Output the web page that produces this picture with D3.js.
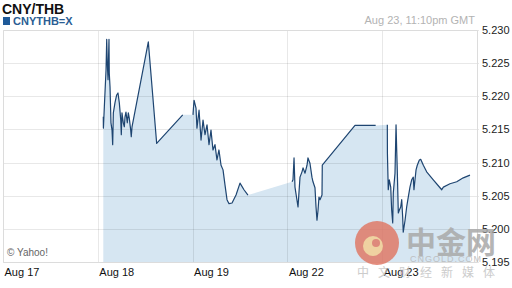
<!DOCTYPE html>
<html>
<head>
<meta charset="utf-8">
<script src="https://cdn.jsdelivr.net/npm/d3@7"></script>
<style>
  body { margin: 0; background: #fff; }
  svg { display: block; font-family: Arial, "Liberation Sans", sans-serif; }
</style>
</head>
<body>
<svg id="chart" width="512" height="288"></svg>
<script>
// trading-day index (0 = Aug 17) + fraction of the day, rate
const dayLabels = ['Aug 17', 'Aug 18', 'Aug 19', 'Aug 22', 'Aug 23'];
const yTicks = [5.195, 5.200, 5.205, 5.210, 5.215, 5.220, 5.225, 5.230];

const aug18 = [
  [1.058, 5.2169], [1.059, 5.2152], [1.069, 5.2184], [1.087, 5.2240], [1.094, 5.2286],
  [1.100, 5.2250], [1.108, 5.2225], [1.118, 5.2286], [1.121, 5.2235], [1.129, 5.2214],
  [1.139, 5.2160], [1.150, 5.2149], [1.157, 5.2127], [1.164, 5.2175], [1.181, 5.2190],
  [1.199, 5.2202], [1.213, 5.2205], [1.227, 5.2190], [1.242, 5.2164], [1.248, 5.2142],
  [1.255, 5.2175], [1.269, 5.2160], [1.280, 5.2154], [1.287, 5.2169], [1.297, 5.2176],
  [1.311, 5.2160], [1.322, 5.2175], [1.332, 5.2167], [1.347, 5.2149], [1.353, 5.2139],
  [1.361, 5.2154], [1.533, 5.2282], [1.621, 5.2129], [1.896, 5.2172]
];
const aug19 = [
  [2.004, 5.2172], [2.015, 5.2194], [2.036, 5.2182], [2.046, 5.2152], [2.068, 5.2179],
  [2.089, 5.2134], [2.110, 5.2164], [2.131, 5.2142], [2.152, 5.2157], [2.173, 5.2127],
  [2.194, 5.2149], [2.215, 5.2119], [2.236, 5.2127], [2.257, 5.2104], [2.278, 5.2119],
  [2.300, 5.2096], [2.321, 5.2089], [2.342, 5.2066], [2.363, 5.2044], [2.384, 5.2038],
  [2.416, 5.2039], [2.458, 5.2051], [2.500, 5.2069], [2.542, 5.2059], [2.584, 5.2051]
];
const aug22 = [
  [3.049, 5.2071], [3.059, 5.2074], [3.070, 5.2107], [3.080, 5.2063], [3.112, 5.2033],
  [3.133, 5.2078], [3.154, 5.2086], [3.165, 5.2092], [3.186, 5.2084], [3.207, 5.2096],
  [3.217, 5.2107], [3.238, 5.2099], [3.259, 5.2078], [3.270, 5.2071], [3.291, 5.2062],
  [3.302, 5.2033], [3.312, 5.2013], [3.323, 5.2028], [3.333, 5.2048], [3.344, 5.2044],
  [3.365, 5.2051], [3.368, 5.2096], [3.713, 5.2156], [3.931, 5.2156]
];
const aug23 = [
  [4.054, 5.2157], [4.055, 5.2114], [4.064, 5.2059], [4.075, 5.2074], [4.090, 5.2063],
  [4.100, 5.2028], [4.111, 5.2009], [4.117, 5.2054], [4.135, 5.2084], [4.146, 5.2157],
  [4.153, 5.2119], [4.159, 5.2089], [4.170, 5.2024], [4.180, 5.2028], [4.195, 5.2033],
  [4.206, 5.2044], [4.216, 5.2018], [4.222, 5.1995], [4.241, 5.2013], [4.258, 5.2033],
  [4.275, 5.2048], [4.293, 5.2063], [4.311, 5.2074], [4.328, 5.2078], [4.335, 5.2059],
  [4.346, 5.2074], [4.357, 5.2089], [4.370, 5.2096], [4.392, 5.2104], [4.406, 5.2105],
  [4.434, 5.2096], [4.469, 5.2086], [4.539, 5.2074], [4.610, 5.2062], [4.628, 5.2059],
  [4.645, 5.2063], [4.715, 5.2068], [4.786, 5.2071], [4.855, 5.2077], [4.926, 5.2081]
];
const segments = [aug18, aug19, aug22, aug23];

const svg = d3.select('#chart');
const plotLeft = 3, plotRight = 477, plotTop = 30, plotBottom = 262;

const x = d3.scaleLinear().domain([0, 5]).range([plotLeft, plotRight]);
const y = d3.scaleLinear().domain([5.195, 5.230]).range([plotBottom, plotTop]);

// header
svg.append('text').attr('x', 2).attr('y', 14)
  .attr('font-size', 14).attr('font-weight', 'bold').attr('fill', '#111')
  .text('CNY/THB');
svg.append('rect').attr('x', 3).attr('y', 17).attr('width', 7).attr('height', 8).attr('fill', '#1f5a99');
svg.append('text').attr('x', 13).attr('y', 25)
  .attr('font-size', 11).attr('font-weight', 'bold').attr('fill', '#2a5d93')
  .text('CNYTHB=X');
svg.append('text').attr('x', 475).attr('y', 24).attr('text-anchor', 'end')
  .attr('font-size', 11).attr('fill', '#b3b3b3')
  .text('Aug 23, 11:10pm GMT');

// area under the whole series
const allPts = segments.flat();
svg.append('path')
  .datum(allPts)
  .attr('fill', '#d6e6f2')
  .attr('d', d3.area().x(d => x(d[0])).y0(plotBottom).y1(d => y(d[1])));

// grid
svg.append('g').selectAll('line').data(yTicks).join('line')
  .attr('x1', plotLeft).attr('x2', plotRight + 2)
  .attr('y1', d => Math.round(y(d)) + 0.5).attr('y2', d => Math.round(y(d)) + 0.5)
  .attr('stroke', 'rgba(0,0,0,0.09)');
svg.append('g').selectAll('line').data(d3.range(1, 5)).join('line')
  .attr('x1', d => Math.round(x(d)) + 0.5).attr('x2', d => Math.round(x(d)) + 0.5)
  .attr('y1', plotTop).attr('y2', plotBottom)
  .attr('stroke', 'rgba(0,0,0,0.09)');

// frame
svg.append('path')
  .attr('d', `M${plotRight + 0.5},${plotTop + 0.5}H${plotLeft + 0.5}V${plotBottom + 0.5}H${plotRight + 0.5}V${plotTop + 0.5}`)
  .attr('fill', 'none').attr('stroke', '#dcdcdc');

// price line, drawn per trading session
const line = d3.line().x(d => x(d[0])).y(d => y(d[1]));
svg.append('g').selectAll('path').data(segments).join('path')
  .attr('d', line)
  .attr('fill', 'none')
  .attr('stroke', '#1e4571')
  .attr('stroke-width', 1.2)
  .attr('stroke-linejoin', 'round');

// axes
const xAxis = d3.axisBottom(x).tickValues(d3.range(0, 5)).tickSize(0).tickFormat(i => dayLabels[i]);
svg.append('g').attr('transform', `translate(0,${plotBottom})`).call(xAxis)
  .call(g => g.select('.domain').remove())
  .call(g => g.selectAll('text').attr('text-anchor', 'start').attr('dx', 1).attr('dy', 0).attr('y', 14)
    .attr('font-size', 11).attr('font-family', 'Arial, "Liberation Sans", sans-serif').attr('fill', '#111'));

const yAxis = d3.axisRight(y).tickValues(yTicks).tickSize(0).tickFormat(d3.format('.3f'));
svg.append('g').attr('transform', `translate(${plotRight},0)`).call(yAxis)
  .call(g => g.select('.domain').remove())
  .call(g => g.selectAll('text').attr('x', 5)
    .attr('font-size', 11).attr('font-family', 'Arial, "Liberation Sans", sans-serif').attr('fill', '#222'));

svg.append('text').attr('x', 7).attr('y', 256)
  .attr('font-size', 10).attr('fill', '#666')
  .text('© Yahoo!');

// cngold watermark
const wm = svg.append('g').attr('opacity', 0.85);
wm.append('circle').attr('cx', 377).attr('cy', 243).attr('r', 22).attr('fill', '#e07a68');
wm.append('circle').attr('cx', 373).attr('cy', 246).attr('r', 10).attr('fill', '#f4cf93');
wm.append('circle').attr('cx', 376).attr('cy', 243).attr('r', 4).attr('fill', '#e07a68');
wm.append('text').attr('x', 406).attr('y', 253)
  .attr('font-size', 30).attr('font-weight', 'bold').attr('fill', '#a9a9a9')
  .attr('font-family', '"Noto Sans CJK SC", sans-serif')
  .text('中金网');
wm.append('text').attr('x', 410).attr('y', 262)
  .attr('font-size', 9).attr('fill', '#b9b9b9').attr('letter-spacing', 1)
  .text('CNGOLD.COM');
wm.append('text').attr('x', 357).attr('y', 277)
  .attr('font-size', 12).attr('fill', '#c4c4c4').attr('letter-spacing', 9)
  .attr('font-family', '"Noto Sans CJK SC", sans-serif')
  .text('中文财经新媒体');
</script>
</body>
</html>
